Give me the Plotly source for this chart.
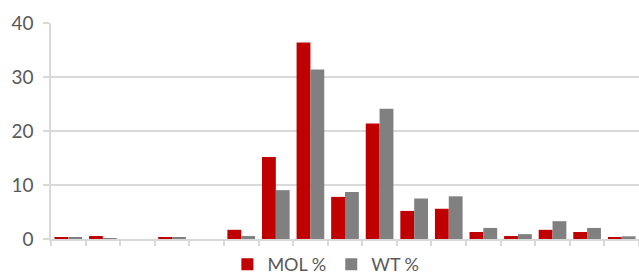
import plotly.graph_objects as go

categories = [str(i) for i in range(1, 18)]
mol_pct = [0.35, 0.55, 0.0, 0.35, 0.0, 1.7, 15.2, 36.4, 7.8, 21.4, 5.2, 5.6, 1.3, 0.55, 1.7, 1.3, 0.25]
wt_pct = [0.35, 0.1, 0.0, 0.35, 0.0, 0.55, 9.05, 31.4, 8.7, 24.1, 7.5, 7.9, 2.05, 0.9, 3.3, 2.05, 0.5]
y_ticks = [0, 10, 20, 30, 40]

FONT = "Lato"
GRID = "#d9d9d9"
TXT = "#595959"

fig = go.Figure()
fig.add_trace(go.Bar(x=categories, y=mol_pct, name="MOL %", marker=dict(color="#C00000", line=dict(width=0))))
fig.add_trace(go.Bar(x=categories, y=wt_pct, name="WT %", marker=dict(color="#808080", line=dict(width=0))))

fig.update_layout(
    width=639, height=276,
    margin=dict(l=51, r=0, t=23, b=37, autoexpand=False),
    paper_bgcolor="white", plot_bgcolor="white",
    barmode="group", bargap=0.2, bargroupgap=0,
    font=dict(family=FONT, size=18, color=TXT),
    legend=dict(orientation="h", xref="container", x=0.51, xanchor="center",
                yref="paper", y=-0.118, yanchor="middle",
                font=dict(family=FONT, size=18, color=TXT),
                itemwidth=30, tracegroupgap=0, bgcolor="rgba(0,0,0,0)"),
    xaxis=dict(type="category", showticklabels=False, ticks="outside", tickson="boundaries",
               ticklen=5, tickcolor=GRID, tickwidth=1.5, showline=True, linecolor=GRID,
               linewidth=1.5, showgrid=False, zeroline=False, automargin=False),
    yaxis=dict(range=[0, 40], tickvals=y_ticks, ticks="outside", ticklen=6, tickcolor=GRID,
               tickwidth=1.5, showline=True, linecolor=GRID, linewidth=1.5, showgrid=True,
               gridcolor=GRID, gridwidth=1.5, zeroline=False, ticklabelstandoff=6,
               automargin=False, tickfont=dict(family=FONT, size=19, color=TXT)),
)

fig.write_html("out.html", config={"displayModeBar": False},
               post_script="document.body.style.margin='0';")
